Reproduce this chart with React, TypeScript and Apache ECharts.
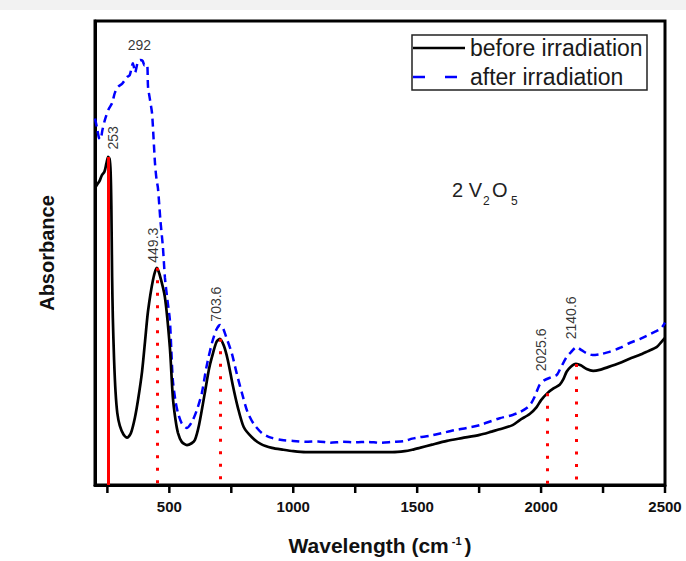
import React, { useEffect, useRef } from "react";
import * as echarts from "echarts";

// Spectrum before irradiation: [wavenumber, absorbance (arb.)]
const beforeIrradiation: [number, number][] = [
  [200, 64.0], [208, 64.7], [218, 65.5], [228, 66.8], [238, 67.5], [246, 69.3], [253, 70.7],
  [259, 70.2], [263, 67.5], [266, 60], [269, 45], [272, 36], [277, 27], [283, 20], [290, 15.5],
  [300, 12.8], [315, 10.9], [330, 10.2], [345, 11.2], [361, 14.5], [375, 18.8], [390, 24.5],
  [402, 31], [414, 37.5], [434, 44.2], [449.3, 46.8], [460, 45.5], [482, 40.5], [502, 29.7],
  [514, 19], [525, 14], [535, 11.2], [550, 9.3], [571, 8.6], [590, 9.0], [603, 9.7], [620, 13],
  [643, 19.8], [660, 25], [672, 27.6], [690, 30.8], [703.6, 31.5], [720, 30], [736, 26.9],
  [756, 21.5], [776, 16.8], [800, 12.5], [833, 10.3], [870, 8.8], [914, 8.0], [960, 7.6],
  [1000, 7.3], [1050, 7.1], [1100, 7.1], [1200, 7.1], [1300, 7.1], [1400, 7.1], [1450, 7.3],
  [1480, 7.6], [1510, 8.0], [1560, 8.7], [1620, 9.5], [1680, 10.1], [1752, 10.8], [1800, 11.5],
  [1833, 12.0], [1885, 12.9], [1914, 14.0], [1954, 15.3], [1982, 16.8], [2000, 18.3],
  [2025.6, 19.8], [2050, 20.8], [2075, 21.6], [2090, 22.8], [2103, 24.4], [2120, 25.5],
  [2140.6, 26.1], [2160, 25.8], [2184, 25.0], [2210, 24.6], [2236, 24.8], [2270, 25.4],
  [2317, 26.3], [2357, 27.2], [2397, 28.0], [2430, 28.8], [2466, 29.7], [2485, 30.8], [2500, 31.7],
];

// Spectrum after irradiation
const afterIrradiation: [number, number][] = [
  [200, 79], [208, 77], [216, 74.8], [222, 74.5], [230, 76.5], [240, 78.7], [255, 81],
  [269, 82.3], [280, 84.5], [293, 85.8], [310, 86.5], [329, 87.9], [340, 88.3], [353, 90.9],
  [362, 88.9], [372, 91.0], [382, 91.6], [392, 91.4], [400, 90.4], [410, 90.6], [414, 85.8],
  [422, 83], [430, 80.2], [436, 75], [442, 69.4], [448, 66], [454, 64.0], [464, 57],
  [474, 51.3], [482, 44.8], [492, 40], [502, 35.6], [508, 29], [514, 22.6], [525, 18],
  [535, 15.5], [550, 13.3], [571, 12.3], [590, 13.5], [610, 16], [631, 19.8], [650, 25.5],
  [672, 30.6], [690, 33.5], [705, 34.5], [715, 34.0], [732, 31.5], [752, 28.4], [772, 24],
  [793, 19.8], [815, 15.8], [840, 13.2], [873, 11.2], [910, 10.2], [954, 9.7], [1000, 9.5],
  [1050, 9.3], [1100, 9.4], [1150, 9.1], [1200, 9.3], [1250, 9.2], [1300, 9.3], [1350, 9.1],
  [1400, 9.3], [1450, 9.5], [1480, 10.0], [1510, 10.3], [1550, 10.6], [1600, 11.2],
  [1650, 11.8], [1700, 12.3], [1752, 12.9], [1800, 13.8], [1833, 14.4], [1885, 15.1],
  [1914, 15.7], [1942, 16.6], [1960, 17.6], [1974, 19.0], [1994, 21.6], [2014, 22.6],
  [2040, 23.2], [2063, 23.7], [2075, 24.8], [2103, 27.6], [2120, 28.6], [2143, 29.7],
  [2165, 29.0], [2184, 28.4], [2208, 28.0], [2240, 28.2], [2276, 28.7], [2320, 29.6],
  [2357, 30.6], [2400, 31.5], [2458, 33.0], [2485, 33.8], [2500, 35.0],
];

// Peak markers: [wavenumber, peak height]
const peakSolid: [number, number][] = [[253, 70.7]];
const peakDotted: [number, number][] = [
  [449.3, 46.8], [703.6, 31.5], [2025.6, 19.8], [2140.6, 26.1],
];

// Peak labels: [x, y (bottom of text), text, rotation]
const peakLabels: [number, number, string, number][] = [
  [276, 72.2, "253", 90],
  [438, 47.8, "449.3", 90],
  [692, 35.1, "703.6", 90],
  [2000, 24.4, "2025.6", 90],
  [2123, 31.3, "2140.6", 90],
  [381, 93.3, "292", 0],
];

const xTickValues = [250, 500, 750, 1000, 1250, 1500, 1750, 2000, 2250, 2500];
const xLabelValues = [500, 1000, 1500, 2000, 2500];
const legendNames = ["before irradiation", "after irradiation"];

const BLUE = "#0000ff";
const RED = "#ff0000";
const FONT = "Liberation Sans, Arial, sans-serif";

export default function App() {
  const ref = useRef<HTMLDivElement>(null);

  useEffect(() => {
    if (!ref.current) return;
    const chart = echarts.init(ref.current, undefined, { renderer: "svg" });

    const option: any = {
      animation: false,
      backgroundColor: "#ffffff",
      textStyle: { fontFamily: FONT },
      grid: {
        left: 95,
        right: 21,
        top: 21,
        bottom: 76,
        show: true,
        borderColor: "#000",
        borderWidth: 3,
      },
      xAxis: {
        type: "value",
        min: 200,
        max: 2500,
        splitLine: { show: false },
        axisLine: { show: true, onZero: false, lineStyle: { color: "#000", width: 3 } },
        axisTick: { show: false },
        axisLabel: {
          customValues: xLabelValues,
          formatter: (v: number) => String(v),
          fontSize: 15,
          fontWeight: "bold",
          color: "#111",
          margin: 14,
          fontFamily: FONT,
        },
        name: "{t|Wavelength (cm}{s|-1}{t|)}",
        nameLocation: "middle",
        nameGap: 50,
        nameTextStyle: {
          rich: {
            t: { fontSize: 21, fontWeight: "bold", color: "#111", fontFamily: FONT },
            s: { fontSize: 11, fontWeight: "bold", color: "#111", fontFamily: FONT, verticalAlign: "top", padding: [0, 3, 0, 3] },
          },
        },
      },
      yAxis: {
        type: "value",
        min: 0,
        max: 100,
        splitLine: { show: false },
        axisLine: { show: true, onZero: false, lineStyle: { color: "#000", width: 3 } },
        axisTick: { show: false },
        axisLabel: { show: false },
        name: "Absorbance",
        nameLocation: "middle",
        nameGap: 38,
        nameTextStyle: { fontSize: 20, fontWeight: "bold", color: "#111", fontFamily: FONT },
      },
      series: [
        {
          name: legendNames[0],
          type: "line",
          data: beforeIrradiation,
          showSymbol: false,
          symbol: "none",
          smooth: 0.25,
          lineStyle: { color: "#000", width: 2.7 },
          z: 3,
        },
        {
          name: legendNames[1],
          type: "line",
          data: afterIrradiation,
          showSymbol: false,
          symbol: "none",
          smooth: 0.25,
          lineStyle: { color: BLUE, width: 2.5, type: [8, 5] },
          z: 2,
        },
        {
          type: "line",
          data: [],
          z: 5,
          markLine: {
            silent: true,
            symbol: ["none", "none"],
            label: { show: false },
            animation: false,
            data: [
              ...peakSolid.map(([x, y]) => [
                { coord: [x, y], lineStyle: { color: RED, width: 3, type: "solid" } },
                { coord: [x, 0] },
              ]),
              ...peakDotted.map(([x, y]) => [
                { coord: [x, y], lineStyle: { color: RED, width: 3, type: [3, 9.5] } },
                { coord: [x, 0] },
              ]),
            ],
          },
        },
        {
          // outward x-axis tick marks every 250
          type: "custom",
          silent: true,
          clip: false,
          z: 6,
          data: xTickValues.map((v) => [v, 0]),
          renderItem: (params: any, api: any) => {
            const p = api.coord([api.value(0), 0]);
            return {
              type: "line",
              shape: { x1: p[0], y1: p[1] + 1, x2: p[0], y2: p[1] + 8 },
              style: { stroke: "#000", lineWidth: 2.5 },
            };
          },
        },
        {
          type: "scatter",
          symbolSize: 1,
          itemStyle: { color: "rgba(0,0,0,0)" },
          silent: true,
          z: 6,
          data: peakLabels.map(([x, y, text, rot]) => ({
            value: [x, y],
            label: {
              show: true,
              formatter: text,
              rotate: rot,
              position: [0, 0],
              align: rot ? "left" : "center",
              verticalAlign: rot ? "middle" : "bottom",
              fontSize: 14,
              color: "#000",
              fontFamily: FONT,
            },
          })),
        },
      ],
      graphic: [
        { type: "rect", shape: { x: 0, y: 0, width: 686, height: 10 }, style: { fill: "#f2f2f2" }, z: -10, silent: true },
        // legend
        { type: "rect", shape: { x: 412, y: 35, width: 235, height: 55 }, style: { fill: "#fff", stroke: "#222", lineWidth: 1.5 }, z: 10 },
        { type: "line", shape: { x1: 413, y1: 48, x2: 465, y2: 48 }, style: { stroke: "#000", lineWidth: 2.5 }, z: 11 },
        { type: "line", shape: { x1: 413, y1: 77, x2: 458, y2: 77 }, style: { stroke: BLUE, lineWidth: 2.5, lineDash: [12, 20] }, z: 11 },
        { type: "text", x: 470, y: 48, style: { text: legendNames[0], fontSize: 23, fill: "#1a1a1a", fontFamily: FONT, verticalAlign: "middle" }, z: 11 },
        { type: "text", x: 470, y: 77, style: { text: legendNames[1], fontSize: 23, fill: "#1a1a1a", fontFamily: FONT, verticalAlign: "middle" }, z: 11 },
        // compound label
        { type: "text", x: 452, y: 190, style: { text: "2 V", fontSize: 20, fill: "#222", fontFamily: FONT, verticalAlign: "middle" }, z: 11 },
        { type: "text", x: 483, y: 201, style: { text: "2", fontSize: 12, fill: "#222", fontFamily: FONT, verticalAlign: "middle" }, z: 11 },
        { type: "text", x: 492, y: 190, style: { text: "O", fontSize: 20, fill: "#222", fontFamily: FONT, verticalAlign: "middle" }, z: 11 },
        { type: "text", x: 511, y: 201, style: { text: "5", fontSize: 12, fill: "#222", fontFamily: FONT, verticalAlign: "middle" }, z: 11 },
      ],
    };

    chart.setOption(option);
    return () => chart.dispose();
  }, []);

  return (
    <div
      ref={ref}
      style={{ position: "fixed", left: 0, top: 0, width: 686, height: 561, background: "#fff" }}
    />
  );
}
